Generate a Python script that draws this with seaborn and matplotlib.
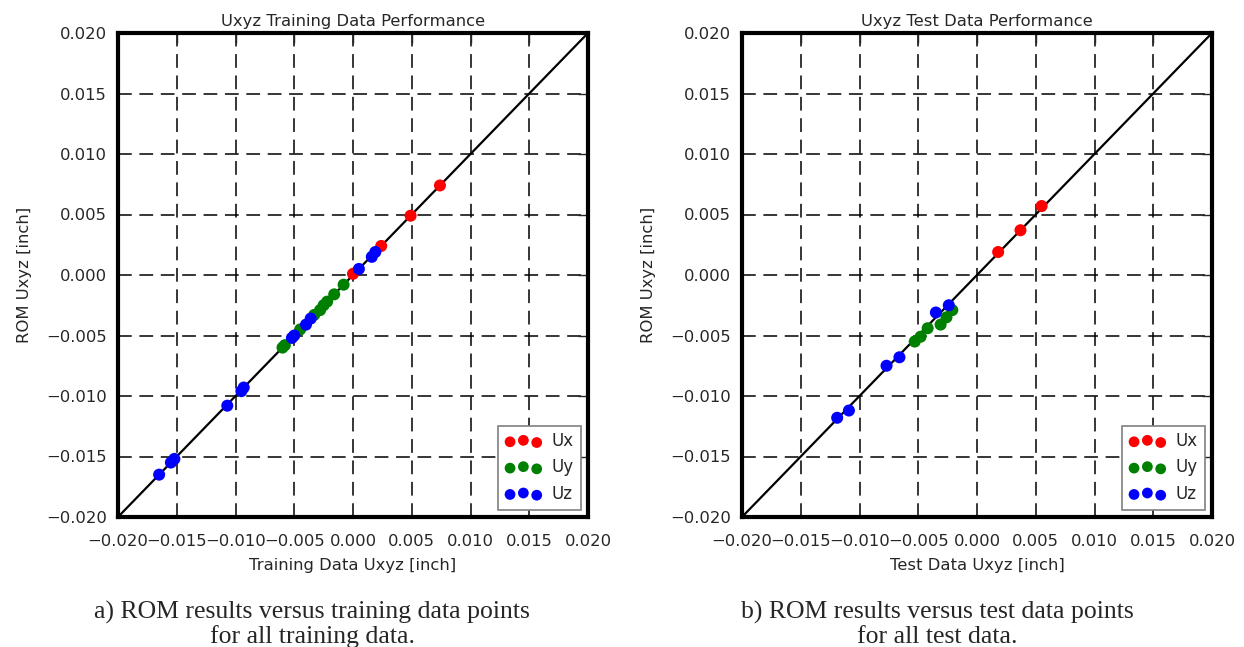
import pandas as pd
import matplotlib
matplotlib.use("Agg")
import matplotlib.pyplot as plt
import seaborn as sns

# training set
train_ux_x = [0.0074, 0.0049, 0.0024, 0.0000]
train_ux_y = [0.0074, 0.0049, 0.0024, 0.0001]
train_uy_x = [-0.0008, -0.0016, -0.0022, -0.0025, -0.0028, -0.0033, -0.0045, -0.0058, -0.0060]
train_uy_y = [-0.0008, -0.0016, -0.0022, -0.0025, -0.0029, -0.0033, -0.0045, -0.0058, -0.0060]
train_uz_x = [0.0019, 0.0016, 0.0005, -0.0036, -0.0040, -0.0050, -0.0052,
              -0.0093, -0.0095, -0.0107, -0.0152, -0.0155, -0.0165]
train_uz_y = [0.0019, 0.0015, 0.0005, -0.0036, -0.0041, -0.0050, -0.0052,
              -0.0093, -0.0096, -0.0108, -0.0152, -0.0155, -0.0165]

# test set
test_ux_x = [0.0018, 0.0037, 0.0055]
test_ux_y = [0.0019, 0.0037, 0.0057]
test_uy_x = [-0.0021, -0.0026, -0.0031, -0.0042, -0.0048, -0.0053]
test_uy_y = [-0.0029, -0.0035, -0.0041, -0.0044, -0.0051, -0.0055]
test_uz_x = [-0.0024, -0.0035, -0.0066, -0.0077, -0.0109, -0.0119]
test_uz_y = [-0.0025, -0.0031, -0.0068, -0.0075, -0.0112, -0.0118]

ticks = [-0.020, -0.015, -0.010, -0.005, 0.000, 0.005, 0.010, 0.015, 0.020]
palette = {"Ux": "red", "Uy": "green", "Uz": "blue"}


def make_frame(ux, uy, uz):
    rows = []
    for name, (xs, ys) in zip(["Ux", "Uy", "Uz"], [ux, uy, uz]):
        for a, b in zip(xs, ys):
            rows.append({"data": a, "rom": b, "comp": name})
    return pd.DataFrame(rows)


train_df = make_frame((train_ux_x, train_ux_y), (train_uy_x, train_uy_y), (train_uz_x, train_uz_y))
test_df = make_frame((test_ux_x, test_ux_y), (test_uy_x, test_uy_y), (test_uz_x, test_uz_y))

sns.set_style("white")
plt.rcParams["font.family"] = ["DejaVu Sans"]

fig = plt.figure(figsize=(12.44, 6.47), dpi=100)
W, H = 1244, 647
ax1 = fig.add_axes([118 / W, 1 - 517 / H, 470 / W, 484 / H])
ax2 = fig.add_axes([742 / W, 1 - 517 / H, 470 / W, 484 / H])


def draw_panel(ax, df, title, xlabel):
    ax.plot([-0.02, 0.02], [-0.02, 0.02], color="black", lw=1.6, zorder=2)
    sns.scatterplot(data=df, x="data", y="rom", hue="comp", palette=palette,
                    s=75, linewidth=0, ax=ax, zorder=3, legend=False)
    ax.set_xlim(-0.02, 0.02)
    ax.set_ylim(-0.02, 0.02)
    ax.set_xticks(ticks)
    ax.set_yticks(ticks)
    ax.set_xticklabels([f"{t:.3f}".replace("-", "\u2212") for t in ticks])
    ax.set_yticklabels([f"{t:.3f}".replace("-", "\u2212") for t in ticks])
    ax.tick_params(axis="both", which="both", direction="in", length=7, width=1,
                   top=True, right=True, labelsize=11.8)
    ax.tick_params(axis="x", pad=12)
    ax.tick_params(axis="y", pad=8)
    ax.grid(True, color="black", linestyle=(0, (9, 5)), linewidth=1.1)
    for sp in ax.spines.values():
        sp.set_linewidth(3)
        sp.set_color("black")
    ax.set_title(title, fontsize=11.8, pad=5)
    ax.set_xlabel(xlabel, fontsize=11.8, labelpad=7)
    ax.set_ylabel("ROM Uxyz [inch]", fontsize=11.8, labelpad=10)
    # proxy collections so the legend shows three scatter points per entry
    handles = [ax.scatter([], [], color=c, s=60, linewidths=0, label=k)
               for k, c in palette.items()]
    leg = ax.legend(handles=handles, loc="lower right", scatterpoints=3,
                    scatteryoffsets=[0.375, 0.5, 0.3125], fontsize=12,
                    fancybox=False, framealpha=1, edgecolor="gray",
                    borderaxespad=0.45, handletextpad=0.6, handlelength=2.2,
                    labelspacing=0.5)
    leg.get_frame().set_linewidth(1.2)


draw_panel(ax1, train_df, "Uxyz Training Data Performance", "Training Data Uxyz [inch]")
draw_panel(ax2, test_df, "Uxyz Test Data Performance", "Test Data Uxyz [inch]")

caption_font = dict(ha="center", va="baseline", fontsize=18.5, family="Liberation Serif")
fig.text(312 / W, 1 - 619 / H, "a) ROM results versus training data points", **caption_font)
fig.text(312 / W, 1 - 643 / H, "for all training data.", **caption_font)
fig.text(937 / W, 1 - 619 / H, "b) ROM results versus test data points", **caption_font)
fig.text(937 / W, 1 - 643 / H, "for all test data.", **caption_font)

fig.savefig("out.png", dpi=100)
